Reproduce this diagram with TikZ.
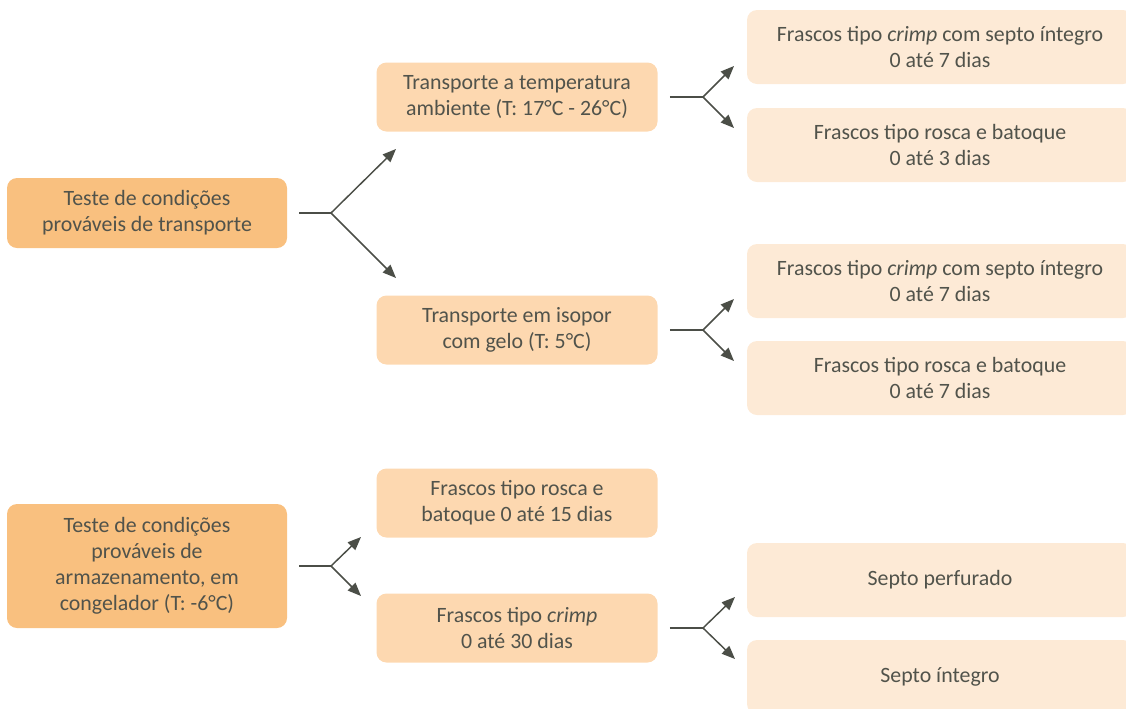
\documentclass[tikz,border=0pt]{standalone}
\usepackage{fontspec}
\setmainfont{Carlito}
\usepackage{tikz}
\usetikzlibrary{arrows.meta,positioning}
\definecolor{FigureInk}{HTML}{51534B}
\definecolor{ArrowInk}{HTML}{4B4E47}
\definecolor{TestFill}{HTML}{F9C07F}
\definecolor{StepFill}{HTML}{FDD8B0}
\definecolor{LeafFill}{HTML}{FDEAD6}

\begin{document}
\begin{tikzpicture}[
  x=0.75pt,y=-0.75pt,
  font=\fontsize{16.4}{19.5}\selectfont,
  text=FigureInk,
  box/.style={rounded corners=7.5pt,align=center,inner sep=0pt},
  testbox/.style={box,fill=TestFill,minimum width=280*0.75pt},
  stepbox/.style={box,fill=StepFill,minimum width=281*0.75pt,minimum height=69*0.75pt},
  leafbox/.style={box,fill=LeafFill,minimum width=386*0.75pt,minimum height=74*0.75pt},
  link/.style={draw=ArrowInk,line width=1.1pt},
  arr/.style={link,-{Triangle[length=10pt,width=8pt]}},
]
  \path[use as bounding box,clip] (0,0) rectangle (1126,708);

  % transporte
  \node[testbox,minimum height=70*0.75pt] (test1) at (147,213)
    {Teste de condições\\prováveis de transporte};
  \node[stepbox] (amb) at (517,97)
    {Transporte a temperatura\\ambiente (T: 17°C - 26°C)};
  \node[stepbox] (iso) at (517,330)
    {Transporte em isopor\\com gelo (T: 5°C)};
  \node[leafbox] (amb-crimp) at (940,47)
    {Frascos tipo \textit{crimp} com septo íntegro\\0 até 7 dias};
  \node[leafbox] (amb-rosca) at (940,145)
    {Frascos tipo rosca e batoque\\0 até 3 dias};
  \node[leafbox] (iso-crimp) at (940,281)
    {Frascos tipo \textit{crimp} com septo íntegro\\0 até 7 dias};
  \node[leafbox] (iso-rosca) at (940,378)
    {Frascos tipo rosca e batoque\\0 até 7 dias};

  % armazenamento
  \node[testbox,minimum height=124*0.75pt] (test2) at (147,566)
    {Teste de condições\\prováveis de\\armazenamento, em\\congelador (T: -6°C)};
  \node[stepbox] (rosca) at (517,503)
    {Frascos tipo rosca e\\batoque 0 até 15 dias};
  \node[stepbox] (crimp) at (517,628)
    {Frascos tipo \textit{crimp}\\0 até 30 dias};
  \node[leafbox] (perf) at (940,580) {Septo perfurado};
  \node[leafbox] (integ) at (940,677) {Septo íntegro};

  % forks
  \coordinate (f1) at (331,213);
  \coordinate (f1-up) at (396,149);
  \coordinate (f1-dn) at (396,278);
  \draw[link] ([xshift=12*0.75pt]test1.east) -- (f1);
  \draw[arr] (f1) -- (f1-up);
  \draw[arr] (f1) -- (f1-dn);

  \coordinate (f2) at (703,97);
  \coordinate (f2-up) at (734,66);
  \coordinate (f2-dn) at (734,128);
  \draw[link] ([xshift=12*0.75pt]amb.east) -- (f2);
  \draw[arr] (f2) -- (f2-up);
  \draw[arr] (f2) -- (f2-dn);

  \coordinate (f3) at (703,330);
  \coordinate (f3-up) at (734,299);
  \coordinate (f3-dn) at (734,361);
  \draw[link] ([xshift=12*0.75pt]iso.east) -- (f3);
  \draw[arr] (f3) -- (f3-up);
  \draw[arr] (f3) -- (f3-dn);

  \coordinate (f4) at (331,566);
  \coordinate (f4-up) at (361,537);
  \coordinate (f4-dn) at (361,596);
  \draw[link] ([xshift=12*0.75pt]test2.east) -- (f4);
  \draw[arr] (f4) -- (f4-up);
  \draw[arr] (f4) -- (f4-dn);

  \coordinate (f5) at (703,628);
  \coordinate (f5-up) at (735,597);
  \coordinate (f5-dn) at (735,659);
  \draw[link] ([xshift=12*0.75pt]crimp.east) -- (f5);
  \draw[arr] (f5) -- (f5-up);
  \draw[arr] (f5) -- (f5-dn);
\end{tikzpicture}
\end{document}
